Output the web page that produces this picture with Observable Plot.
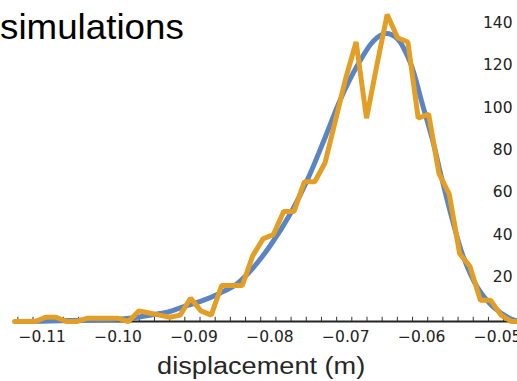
<!DOCTYPE html>
<html><head><meta charset="utf-8">
<script src="https://cdn.jsdelivr.net/npm/d3@7"></script>
<script src="https://cdn.jsdelivr.net/npm/@observablehq/plot@0.6"></script>
<style>
body{margin:0;background:#fff;}
#wrap{position:relative;width:517px;height:381px;overflow:hidden;background:#fff;}
#title{position:absolute;left:0;top:9px;font:35px/35px "Liberation Sans",Arial,sans-serif;color:#000;transform:scaleX(1.05);transform-origin:left top;white-space:nowrap;}
#xlabel{position:absolute;left:0;top:352px;width:517px;height:29px;text-align:center;font:23px/29px "Liberation Sans",Arial,sans-serif;color:#262626;white-space:nowrap;}
#xlabel span{display:inline-block;transform:scaleX(1.18);margin-left:6px;}
</style></head>
<body><div id="wrap"><div id="chart"></div><div id="title">simulations</div><div id="xlabel"><span>displacement (m)</span></div></div>
<script>
// Histogram of simulations (orange), bin positions in metres
const orangeX = [-0.11443,-0.11306,-0.11170,-0.11034,-0.10897,-0.10761,-0.10625,-0.10488,-0.10352,-0.10215,
  -0.10079,-0.09943,-0.09806,-0.09670,-0.09534,-0.09397,-0.09261,-0.09125,-0.08988,-0.08852,
  -0.08715,-0.08579,-0.08443,-0.08306,-0.08170,-0.08034,-0.07897,-0.07761,-0.07625,-0.07488,
  -0.07352,-0.07215,-0.07079,-0.06943,-0.06806,-0.06670,-0.06534,-0.06397,-0.06261,-0.06125,
  -0.05988,-0.05852,-0.05715,-0.05579,-0.05443,-0.05306,-0.05170,-0.05034,-0.04897,-0.04761];
const orangeY = [0,0,0,2,2,0,0,1.5,1.5,1.5,
  1.5,0,5,4,3,2,3,11,5,3,
  17,17,17,31,39,41,52,52,66,66,
  75,95,115,132,96,121,145,134,132,96,
  98,70,60,32,26,10,10,3,0,0];
// Fitted distribution (blue)
const blueX = [-0.11431,-0.10838,-0.10311,-0.10048,-0.09824,-0.09613,-0.09428,-0.09165,-0.08994,-0.08730,
  -0.08506,-0.08295,-0.08071,-0.07808,-0.07584,-0.07373,-0.07149,-0.06925,-0.06714,-0.06556,
  -0.06398,-0.06227,-0.06069,-0.05924,-0.05818,-0.05660,-0.05529,-0.05344,-0.05133,-0.04909,-0.04817];
const blueY = [0,0.3,0.8,1.2,2,3.3,4.4,7.6,9.5,13.5,
  18,25.6,36,51,67,85,105,121,132.5,136,
  133.5,122,102.5,84,68,46,30.4,16,6.8,1.3,0.3];
// Axis ticks
const xTickValues = [-0.11,-0.10,-0.09,-0.08,-0.07,-0.06,-0.05];
const xMinorTicks = d3.range(-0.114, -0.0475, 0.002);
const yTickValues = [20,40,60,80,100,120,140];
const xDomain = [-0.116285, -0.04817];
const yDomain = [0, 151.6];
const axisStart = -0.1143;

const orange = orangeX.map((x, i) => ({x, y: orangeY[i]}));
const blue = blueX.map((x, i) => ({x, y: blueY[i]}));
const fmt = d3.format(".2f");
const tickFont = {fontSize: 15.5, fontFamily: "DejaVu Sans", fill: "#222"};

const chart = Plot.plot({
  width: 517, height: 352,
  marginTop: 0, marginRight: 0, marginBottom: 31, marginLeft: 0,
  x: {domain: xDomain, axis: null},
  y: {domain: yDomain, axis: null},
  style: {background: "transparent"},
  marks: [
    Plot.ruleY([0], {x1: axisStart, x2: xDomain[1], stroke: "#222", strokeWidth: 1.8}),
    Plot.ruleX(xMinorTicks, {x: d => d, y1: 0, y2: 2, stroke: "#333", strokeWidth: 1}),
    Plot.text(xTickValues, {x: d => d, text: d => fmt(d), frameAnchor: "bottom", dy: 20, dx: -6, ...tickFont}),
    Plot.text(yTickValues, {y: d => d, text: d => String(d), frameAnchor: "right", textAnchor: "end", dx: -5, dy: -2, ...tickFont}),
    Plot.line(blue, {x: "x", y: "y", stroke: "#5b84c2", strokeWidth: 5, curve: "catmull-rom"}),
    Plot.line(orange, {x: "x", y: "y", stroke: "#e39e25", strokeWidth: 5, strokeLinejoin: "miter"})
  ]
});
document.getElementById("chart").appendChild(chart);
</script>
</body></html>
